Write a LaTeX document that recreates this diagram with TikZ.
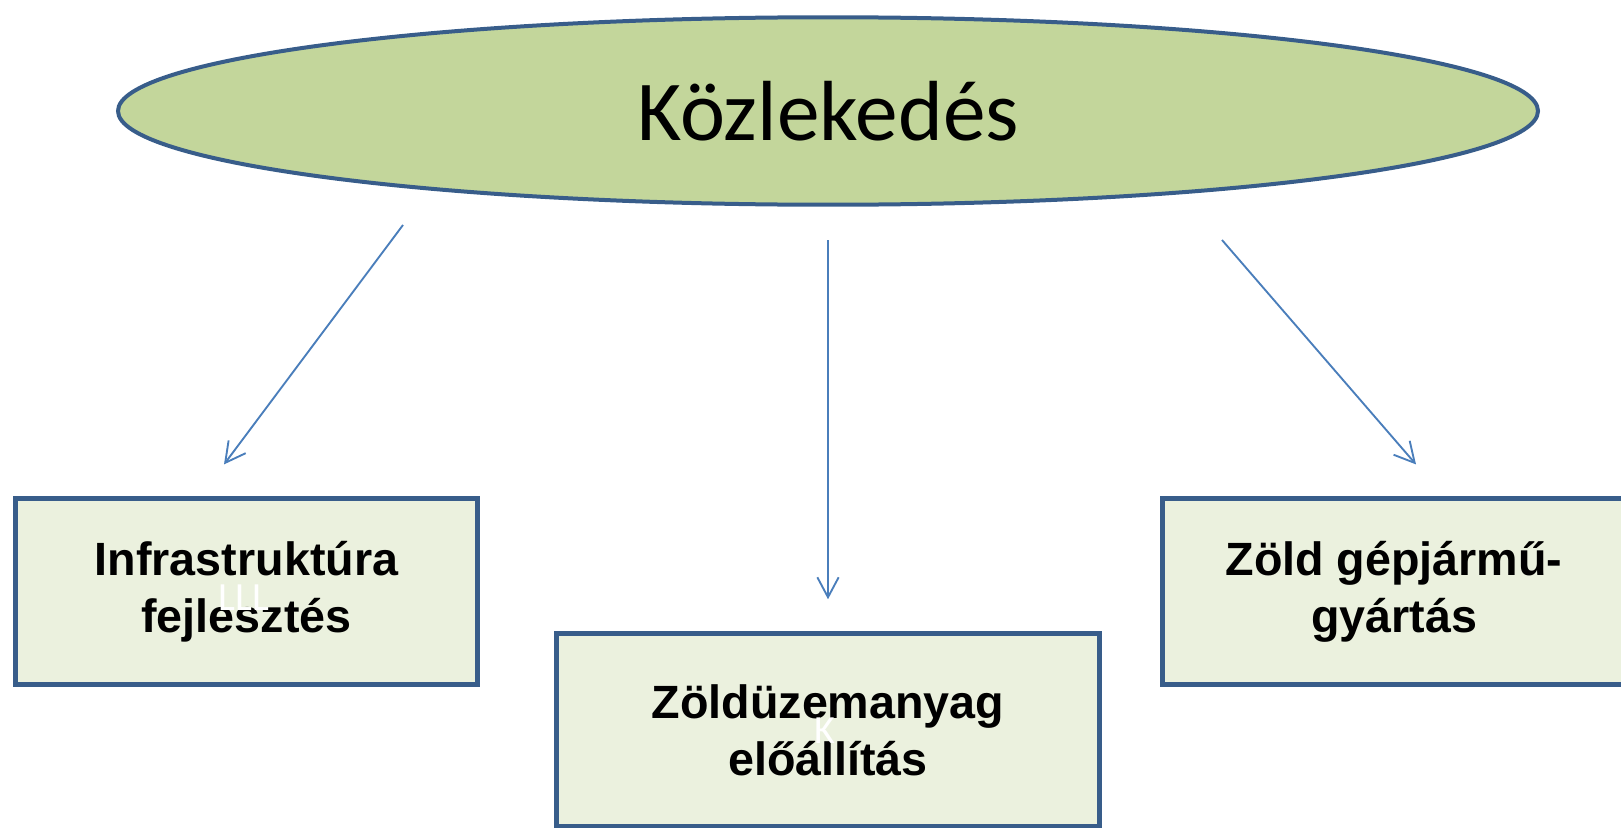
\documentclass[tikz,border=0pt]{standalone}
\usepackage{fontspec}
\setmainfont{Liberation Sans}
\newfontfamily\carlito{Carlito}
\usetikzlibrary{shapes.geometric,arrows.meta,calc}
\definecolor{ellfill}{HTML}{C3D69B}
\definecolor{boxfill}{HTML}{EBF1DE}
\definecolor{edge}{HTML}{385D8A}
\definecolor{arrowc}{HTML}{4A7EBB}
\tikzset{
  topic/.style={ellipse,draw=edge,line width=3pt,fill=ellfill,
    minimum width=1065pt,minimum height=140.6pt,inner sep=0pt,
    font=\carlito\fontsize{64}{70}\selectfont},
  area/.style={rectangle,draw=edge,line width=3.75pt,fill=boxfill,
    minimum width=347pt,minimum height=139.5pt,inner sep=0pt,align=center,
    font=\bfseries\fontsize{35}{43}\selectfont},
  ghost/.style={text=white,inner sep=0pt,font=\carlito\fontsize{30}{34}\selectfont},
  link/.style={arrowc,line width=1.4pt,-{Straight Barb[length=15pt,width=16pt]}}
}
\begin{document}
\begin{tikzpicture}[x=0.75pt,y=-0.75pt]
\useasboundingbox (0,0) rectangle (1621,828);
% main topic
\node[topic] (kozl) at (828,111) {Közlekedés};
% the three areas
\node[area] (infra) at (246.5,591.5) {Infrastruktúra\\fejlesztés};
\node[area,minimum width=407pt,minimum height=145pt] (uzem) at (828,730) {Zöldüzemanyag\\előállítás};
\node[area] (gepj) at (1394,591.5) {Zöld gépjármű-\\gyártás};
% faint leftovers
\node[ghost] (lll) at (244,598) {LLL};
\node[ghost] (kk) at (825,731) {K};
% arrows
\draw[link] ($(kozl)+(-425,114)$) -- ($(infra.north)+(-22.5,-31.6)$);
\draw[link] ($(kozl)+(0,129)$) -- ($(uzem.north)+(0,-31.6)$);
\draw[link] ($(kozl)+(394,129)$) -- ($(gepj.north)+(22,-31.6)$);
\end{tikzpicture}
\end{document}
